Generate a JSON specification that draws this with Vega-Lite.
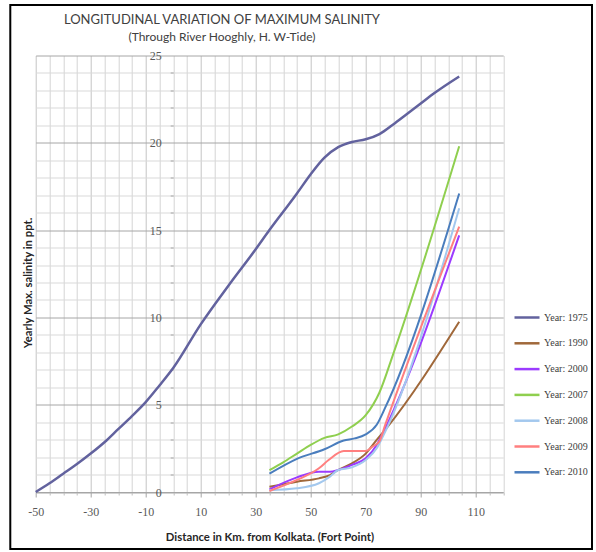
{
  "$schema": "https://vega.github.io/schema/vega-lite/v6.json",
  "autosize": {"type": "none"},
  "padding": {"left": 35.7, "top": 55.5, "right": 92.8, "bottom": 60},
  "width": 467.5,
  "height": 436.5,
  "background": "white",
  "config": {"view": {"stroke": null}},
  "title": {
    "text": "LONGITUDINAL VARIATION OF MAXIMUM SALINITY",
    "subtitle": "(Through River Hooghly, H. W-Tide)",
    "anchor": "middle",
    "frame": "group",
    "dx": -47.5,
    "offset": -38.5,
    "font": "Lato",
    "fontSize": 13,
    "fontWeight": "normal",
    "color": "#404040",
    "subtitleFont": "Lato",
    "subtitleFontSize": 12,
    "subtitleColor": "#404040",
    "subtitlePadding": 5
  },
  "data": {
    "values": [
      {"series": "Year: 1975", "km": -50, "salinity": 0},
      {"series": "Year: 1975", "km": -45, "salinity": 0.5},
      {"series": "Year: 1975", "km": -40, "salinity": 1.05},
      {"series": "Year: 1975", "km": -35, "salinity": 1.6},
      {"series": "Year: 1975", "km": -30, "salinity": 2.2},
      {"series": "Year: 1975", "km": -25, "salinity": 2.85},
      {"series": "Year: 1975", "km": -20, "salinity": 3.6},
      {"series": "Year: 1975", "km": -15, "salinity": 4.35},
      {"series": "Year: 1975", "km": -10, "salinity": 5.15},
      {"series": "Year: 1975", "km": -5, "salinity": 6.1},
      {"series": "Year: 1975", "km": 0, "salinity": 7.1},
      {"series": "Year: 1975", "km": 10, "salinity": 9.6},
      {"series": "Year: 1975", "km": 20, "salinity": 11.8},
      {"series": "Year: 1975", "km": 30, "salinity": 13.9},
      {"series": "Year: 1975", "km": 35, "salinity": 15.0},
      {"series": "Year: 1975", "km": 40, "salinity": 16.05},
      {"series": "Year: 1975", "km": 45, "salinity": 17.1},
      {"series": "Year: 1975", "km": 50, "salinity": 18.2},
      {"series": "Year: 1975", "km": 55, "salinity": 19.15},
      {"series": "Year: 1975", "km": 60, "salinity": 19.75},
      {"series": "Year: 1975", "km": 65, "salinity": 20.05},
      {"series": "Year: 1975", "km": 70, "salinity": 20.2},
      {"series": "Year: 1975", "km": 75, "salinity": 20.5},
      {"series": "Year: 1975", "km": 80, "salinity": 21.05},
      {"series": "Year: 1975", "km": 85, "salinity": 21.65},
      {"series": "Year: 1975", "km": 90, "salinity": 22.25},
      {"series": "Year: 1975", "km": 95, "salinity": 22.85},
      {"series": "Year: 1975", "km": 104, "salinity": 23.8},

      {"series": "Year: 1990", "km": 35, "salinity": 0.3},
      {"series": "Year: 1990", "km": 45, "salinity": 0.59},
      {"series": "Year: 1990", "km": 53, "salinity": 0.78},
      {"series": "Year: 1990", "km": 57, "salinity": 0.97},
      {"series": "Year: 1990", "km": 60, "salinity": 1.26},
      {"series": "Year: 1990", "km": 65, "salinity": 1.64},
      {"series": "Year: 1990", "km": 70, "salinity": 2.2},
      {"series": "Year: 1990", "km": 74, "salinity": 2.98},
      {"series": "Year: 1990", "km": 78, "salinity": 3.74},
      {"series": "Year: 1990", "km": 104, "salinity": 9.75},

      {"series": "Year: 2000", "km": 35, "salinity": 0.15},
      {"series": "Year: 2000", "km": 45, "salinity": 0.84},
      {"series": "Year: 2000", "km": 53, "salinity": 1.16},
      {"series": "Year: 2000", "km": 57, "salinity": 1.16},
      {"series": "Year: 2000", "km": 60, "salinity": 1.26},
      {"series": "Year: 2000", "km": 65, "salinity": 1.55},
      {"series": "Year: 2000", "km": 70, "salinity": 1.93},
      {"series": "Year: 2000", "km": 74, "salinity": 2.69},
      {"series": "Year: 2000", "km": 76, "salinity": 3.3},
      {"series": "Year: 2000", "km": 104, "salinity": 14.7},

      {"series": "Year: 2007", "km": 35, "salinity": 1.25},
      {"series": "Year: 2007", "km": 40, "salinity": 1.7},
      {"series": "Year: 2007", "km": 45, "salinity": 2.2},
      {"series": "Year: 2007", "km": 50, "salinity": 2.7},
      {"series": "Year: 2007", "km": 55, "salinity": 3.1},
      {"series": "Year: 2007", "km": 60, "salinity": 3.3},
      {"series": "Year: 2007", "km": 65, "salinity": 3.75},
      {"series": "Year: 2007", "km": 70, "salinity": 4.4},
      {"series": "Year: 2007", "km": 75, "salinity": 5.7},
      {"series": "Year: 2007", "km": 80, "salinity": 7.9},
      {"series": "Year: 2007", "km": 104, "salinity": 19.8},

      {"series": "Year: 2008", "km": 35, "salinity": 0.1},
      {"series": "Year: 2008", "km": 45, "salinity": 0.21},
      {"series": "Year: 2008", "km": 53, "salinity": 0.5},
      {"series": "Year: 2008", "km": 57, "salinity": 0.88},
      {"series": "Year: 2008", "km": 60, "salinity": 1.26},
      {"series": "Year: 2008", "km": 65, "salinity": 1.41},
      {"series": "Year: 2008", "km": 70, "salinity": 1.83},
      {"series": "Year: 2008", "km": 74, "salinity": 2.5},
      {"series": "Year: 2008", "km": 76, "salinity": 3.1},
      {"series": "Year: 2008", "km": 104, "salinity": 16.25},

      {"series": "Year: 2009", "km": 35, "salinity": 0.06},
      {"series": "Year: 2009", "km": 45, "salinity": 0.69},
      {"series": "Year: 2009", "km": 53, "salinity": 1.36},
      {"series": "Year: 2009", "km": 56.5, "salinity": 1.83},
      {"series": "Year: 2009", "km": 62, "salinity": 2.35},
      {"series": "Year: 2009", "km": 70, "salinity": 2.35},
      {"series": "Year: 2009", "km": 72.5, "salinity": 2.6},
      {"series": "Year: 2009", "km": 75, "salinity": 2.9},
      {"series": "Year: 2009", "km": 77, "salinity": 3.8},
      {"series": "Year: 2009", "km": 104, "salinity": 15.2},

      {"series": "Year: 2010", "km": 35, "salinity": 1.05},
      {"series": "Year: 2010", "km": 45, "salinity": 1.9},
      {"series": "Year: 2010", "km": 55, "salinity": 2.45},
      {"series": "Year: 2010", "km": 62, "salinity": 2.95},
      {"series": "Year: 2010", "km": 66, "salinity": 3.07},
      {"series": "Year: 2010", "km": 70, "salinity": 3.3},
      {"series": "Year: 2010", "km": 74, "salinity": 3.85},
      {"series": "Year: 2010", "km": 77, "salinity": 4.8},
      {"series": "Year: 2010", "km": 104, "salinity": 17.1}
    ]
  },
  "layer": [
    {
      "data": {"values": [{}]},
      "mark": {"type": "rect", "filled": false, "stroke": "#000000", "strokeWidth": 2},
      "encoding": {
        "x": {"datum": -59.24, "type": "quantitative", "axis": null},
        "x2": {"datum": 152.29},
        "y": {"datum": 27.89, "type": "quantitative", "axis": null},
        "y2": {"datum": -3.26}
      }
    },
    {
      "transform": [{"filter": "datum.series !== 'Year: 1975'"}],
      "mark": {"type": "line", "interpolate": "monotone", "strokeWidth": 2},
      "encoding": {
        "x": {
          "field": "km", "type": "quantitative",
          "scale": {"domain": [-50, 120], "nice": false, "zero": false},
          "axis": {
            "orient": "bottom",
            "values": [-45, -40, -35, -25, -20, -15, -5, 0, 5, 15, 20, 25, 35, 40, 45, 55, 60, 65, 75, 80, 85, 95, 100, 105, 115, 120],
            "grid": true, "gridColor": "#d4d4d4", "gridWidth": 1,
            "labels": false, "ticks": true, "tickSize": 3, "tickColor": "#bfbfbf", "domain": false, "title": null
          }
        },
        "y": {
          "field": "salinity", "type": "quantitative",
          "scale": {"domain": [0, 25], "nice": false, "zero": false},
          "axis": {
            "orient": "left", "offset": -137.5,
            "values": [1, 2, 3, 4, 6, 7, 8, 9, 11, 12, 13, 14, 16, 17, 18, 19, 21, 22, 23, 24],
            "grid": true, "gridColor": "#d9d9d9", "gridWidth": 1,
            "labels": false, "ticks": true, "tickSize": 3, "tickColor": "#a6a6a6",
            "domain": false, "title": null
          }
        },
        "color": {
          "field": "series", "type": "nominal",
          "scale": {
            "domain": ["Year: 1975", "Year: 1990", "Year: 2000", "Year: 2007", "Year: 2008", "Year: 2009", "Year: 2010"],
            "range": ["#62629e", "#a0683a", "#9b3bff", "#8fcf4f", "#a3c8ee", "#ff7f7f", "#4a7dbd"]
          },
          "legend": {
            "orient": "none", "legendX": 477.3, "legendY": 248,
            "title": null, "padding": 0,
            "symbolType": "stroke", "symbolSize": 625, "symbolStrokeWidth": 2.5,
            "labelFont": "Liberation Serif", "labelFontSize": 10, "labelColor": "#404040",
            "labelOffset": 3, "rowPadding": 6.8
          }
        }
      }
    },
    {
      "transform": [{"filter": "datum.series === 'Year: 1975'"}],
      "mark": {"type": "line", "interpolate": "monotone", "strokeWidth": 2.5},
      "encoding": {
        "x": {
          "field": "km", "type": "quantitative",
          "axis": {
            "orient": "bottom",
            "values": [-50, -30, -10, 10, 30, 50, 70, 90, 110],
            "labelExpr": "'' + datum.value",
            "labelFlush": false,
            "grid": true, "gridColor": "#c4c4c4", "gridWidth": 1,
            "labelFont": "Liberation Serif", "labelFontSize": 12, "labelColor": "#595959",
            "ticks": true, "tickSize": 5, "tickColor": "#a6a6a6",
            "domain": true, "domainColor": "#a6a6a6",
            "labelPadding": 9,
            "title": "Distance in Km. from Kolkata. (Fort Point)",
            "titleFont": "Lato", "titleFontSize": 11.3, "titleFontWeight": "bold", "titleColor": "#262626",
            "titlePadding": 14
          }
        },
        "y": {
          "field": "salinity", "type": "quantitative",
          "axis": {
            "orient": "left", "offset": -137.5,
            "values": [0, 5, 10, 15, 20, 25],
            "grid": true, "gridColor": "#a6a6a6", "gridWidth": 1,
            "labelFont": "Liberation Serif", "labelFontSize": 12, "labelColor": "#595959",
            "ticks": false, "labelPadding": 12, "domain": false,
            "title": "Yearly Max. salinity in ppt.",
            "titleX": -145.2, "titleY": 227, "titleAngle": -90, "titleBaseline": "middle",
            "titleFont": "Lato", "titleFontSize": 11.3, "titleFontWeight": "bold", "titleColor": "#262626"
          }
        },
        "color": {"field": "series", "type": "nominal"}
      }
    }
  ],
  "resolve": {"axis": {"x": "independent", "y": "independent"}}
}
